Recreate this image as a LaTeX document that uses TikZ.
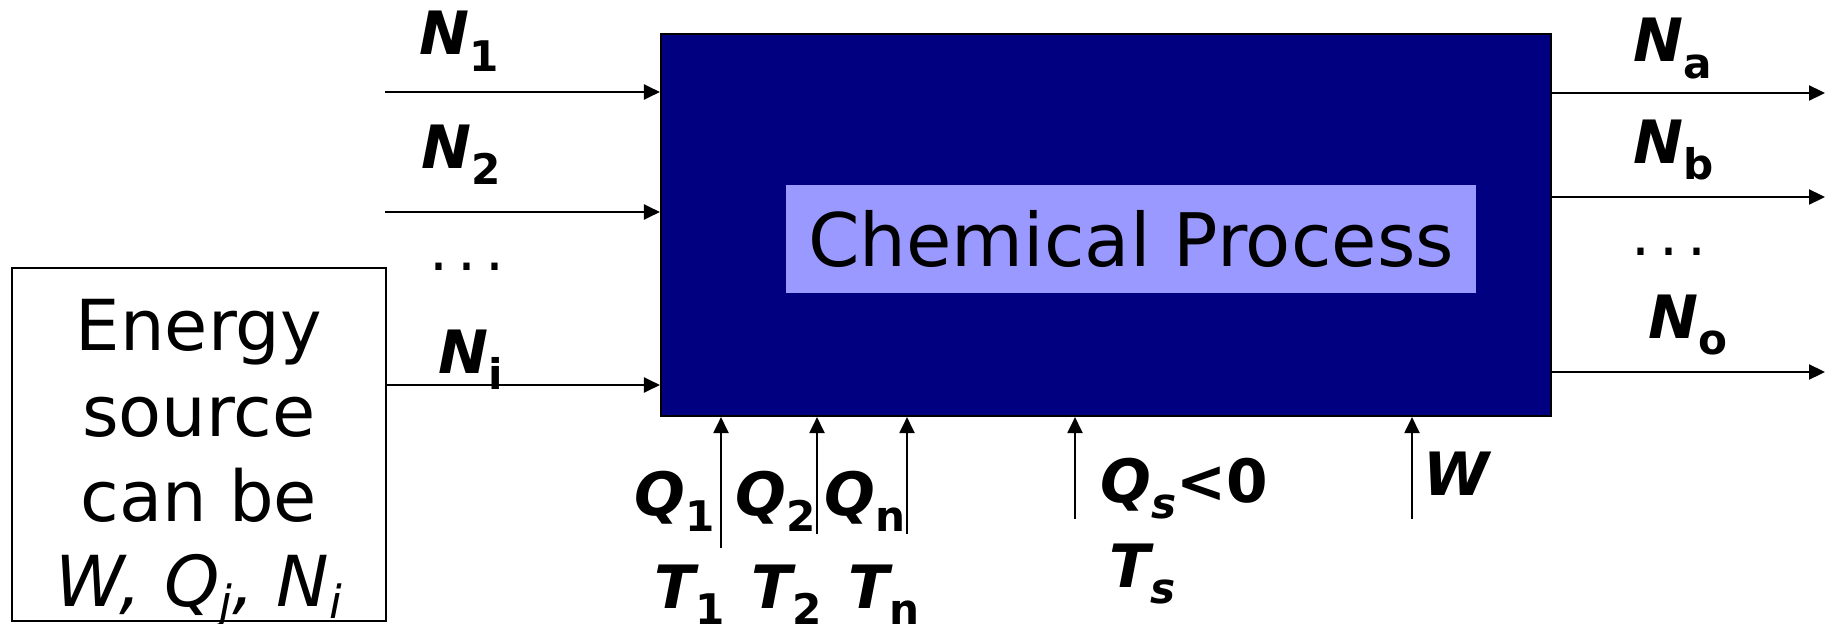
\documentclass[tikz,border=0pt]{standalone}
\usepackage{fontspec}
\setmainfont{DejaVu Sans}
\usetikzlibrary{arrows.meta}

\definecolor{procblue}{RGB}{0,0,128}
\definecolor{corelilac}{RGB}{153,153,255}

% bold italic symbol with an upright bold subscript
\newcommand{\stream}[2]{{\bfseries\itshape #1}\raisebox{-4.8pt}{\fontsize{12}{12}\selectfont\bfseries #2}}
\newcommand{\esub}[1]{\raisebox{-3.5pt}{\fontsize{13}{13}\selectfont #1}}
\newcommand{\moredots}{.\hspace{2.6pt}.\hspace{2.6pt}.}

\begin{document}
\begin{tikzpicture}[
    flow/.style={-{Triangle[length=1.6mm, width=1.5mm]}, line width=0.6pt},
    lbl/.style={anchor=base west, inner sep=0pt, font=\fontsize{17}{20}\selectfont}
]
    \useasboundingbox (0,0) rectangle (18.28,6.23);

    % Process
    \node[draw, rectangle, fill=procblue, line width=0.6pt, minimum width=8.9cm, minimum height=3.82cm] (proc) at (11.06,3.98) {};
    \node[rectangle, fill=corelilac, inner sep=0pt, minimum width=6.9cm, minimum height=1.08cm, font=\fontsize{21}{25}\selectfont] (core) at (11.31,3.84) {Chemical Process};

    % Energy source
    \node[draw, rectangle, line width=0.6pt, minimum width=3.74cm, minimum height=3.53cm] (esrc) at (1.99,1.785) {};
    \node[anchor=north, inner sep=0pt, align=center, font=\fontsize{20}{24.2}\selectfont] (etext) at (1.99,3.24) {Energy\\source\\can be\\{\itshape W,\ Q\esub{j},\ N\esub{i}}};

    % Inlet streams
    \coordinate (in1) at (3.85,5.31);
    \coordinate (in2) at (3.85,4.11);
    \coordinate (ini) at (3.86,2.38);
    \draw[flow] (in1) -- (in1 -| proc.west);
    \draw[flow] (in2) -- (in2 -| proc.west);
    \draw[flow] (ini) -- (ini -| proc.west);

    \node[lbl] (n1) at (4.19,5.68) {\stream{N}{1}};
    \node[lbl] (n2) at (4.21,4.55) {\stream{N}{2}};
    \node[lbl] (ndots) at (4.29,3.53) {\moredots};
    \node[lbl] (ni) at (4.38,2.50) {\stream{N}{i}};

    % Outlet streams
    \coordinate (outa) at (18.25,5.30);
    \coordinate (outb) at (18.25,4.26);
    \coordinate (outo) at (18.25,2.51);
    \draw[flow] (outa -| proc.east) -- (outa);
    \draw[flow] (outb -| proc.east) -- (outb);
    \draw[flow] (outo -| proc.east) -- (outo);

    \node[lbl] (na) at (16.33,5.61) {\stream{N}{a}};
    \node[lbl] (nb) at (16.33,4.60) {\stream{N}{b}};
    \node[lbl] (odots) at (16.31,3.68) {\moredots};
    \node[lbl] (no) at (16.48,2.85) {\stream{N}{o}};

    % Heat and work
    \coordinate (b1) at (7.21,0.75);
    \coordinate (b2) at (8.17,0.89);
    \coordinate (bn) at (9.07,0.89);
    \coordinate (bs) at (10.75,1.04);
    \coordinate (bw) at (14.12,1.04);
    \draw[flow] (b1) -- (b1 |- proc.south);
    \draw[flow] (b2) -- (b2 |- proc.south);
    \draw[flow] (bn) -- (bn |- proc.south);
    \draw[flow] (bs) -- (bs |- proc.south);
    \draw[flow] (bw) -- (bw |- proc.south);

    \node[lbl] (q1) at (6.34,1.08) {\stream{Q}{1}};
    \node[lbl] (q2) at (7.35,1.08) {\stream{Q}{2}};
    \node[lbl] (qn) at (8.24,1.08) {\stream{Q}{n}};
    \node[lbl] (t1) at (6.54,0.15) {\stream{T}{1}};
    \node[lbl] (t2) at (7.51,0.15) {\stream{T}{2}};
    \node[lbl] (tn) at (8.48,0.15) {\stream{T}{n}};
    \node[lbl] (qs) at (11.00,1.21) {\stream{Q}{\itshape s}{\bfseries <0}};
    \node[lbl] (ts) at (11.09,0.36) {\stream{T}{\itshape s}};
    \node[lbl] (w) at (14.23,1.28) {\bfseries\itshape W};
\end{tikzpicture}
\end{document}
